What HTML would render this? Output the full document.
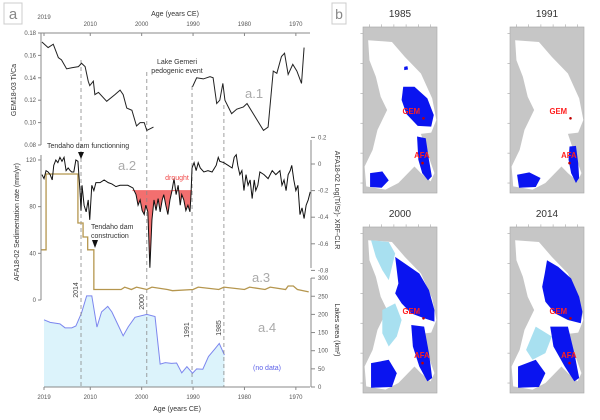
<!DOCTYPE html>
<html><head><meta charset="utf-8"><style>
html,body{margin:0;padding:0;background:#fff;}
svg{display:block;font-family:"Liberation Sans",sans-serif;}
</style></head><body>
<svg id="fig" width="600" height="420" viewBox="0 0 600 420">
<g id="panelA"></g>
<g id="panelB"></g>
</svg>
<script>
// ---- data ----
const tiYears1=[2019.4,2018.2,2017.2,2016.2,2015.6,2014.6,2013.6,2012.3,2011.7,2011.0,2010.4,2010.1,2009.4,2009.1,2008.4,2006.8,2005.2,2004.2,2003.6,2002.9,2001.9,2001.0,2000.3,1999.5,1999.0,1997.7];
const tiVals1=[0.172,0.167,0.170,0.158,0.156,0.148,0.149,0.150,0.153,0.150,0.137,0.133,0.137,0.125,0.127,0.119,0.125,0.129,0.125,0.113,0.111,0.097,0.100,0.100,0.093,0.096];
const tiYears2=[1990.1,1989.3,1988.0,1986.7,1986.1,1985.4,1984.8,1984.2,1983.8,1982.5,1981.5,1980.2,1979.5,1978.3,1976.3,1975.4,1974.4,1973.7,1972.8,1972.2,1971.5,1970.6,1969.8,1968.9,1968.4];
const tiVals2=[0.132,0.140,0.139,0.141,0.140,0.117,0.120,0.135,0.120,0.108,0.112,0.114,0.117,0.108,0.093,0.096,0.146,0.144,0.159,0.162,0.143,0.152,0.146,0.135,0.167];
const srYears=[2019.4,2019.0,2018.6,2018.2,2017.8,2017.4,2017.1,2016.7,2016.3,2015.9,2015.5,2015.1,2014.7,2014.3,2013.9,2013.6,2013.2,2012.8,2012.4,2012.0,2011.8,2011.6,2011.2,2010.8,2010.4,2010.1,2009.7,2009.3,2008.9,2008.1,2007.3,2006.5,2005.8,2005.0,2004.2,2003.4,2002.7,2001.7,2001.1,2000.7,2000.3,1999.9,1999.5,1999.2,1998.8,1998.4,1998.0,1997.6,1997.2,1996.8,1996.4,1996.0,1995.7,1995.3,1994.9,1994.5,1994.1,1993.7,1993.3,1992.9,1992.5,1992.2,1991.8,1991.4,1991.0,1990.6,1990.4,1990.2,1989.8,1989.4,1989.0,1988.6,1987.9,1987.1,1986.3,1985.5,1985.1,1984.8,1984.0,1983.2,1982.4,1982.0,1981.6,1981.3,1980.9,1980.5,1980.1,1979.7,1979.3,1978.9,1978.5,1978.1,1977.8,1977.4,1977.0,1976.2,1975.4,1974.6,1973.9,1973.1,1972.7,1972.3,1971.9,1971.5,1971.1,1970.8,1970.4,1970.0,1969.6,1969.2,1968.8,1968.4,1968.0,1967.6,1967.2];
const srVals=[-0.08,-0.11,-0.05,-0.06,-0.08,-0.12,-0.01,0.03,0.01,0.05,0.02,0.05,-0.05,-0.03,-0.05,-0.06,-0.06,0.03,0.02,-0.20,-0.35,-0.16,-0.31,-0.36,-0.27,-0.42,-0.16,-0.20,-0.14,-0.14,-0.12,-0.14,-0.15,-0.17,-0.16,-0.16,-0.16,-0.18,-0.23,-0.31,-0.27,-0.35,-0.38,-0.31,-0.36,-0.78,-0.42,-0.27,-0.35,-0.26,-0.36,-0.27,-0.23,-0.31,-0.38,-0.27,-0.20,-0.11,-0.23,-0.16,-0.31,-0.23,-0.27,-0.35,-0.31,-0.36,-0.23,-0.03,0.01,-0.05,0.01,-0.03,-0.06,-0.05,-0.06,-0.01,0.05,0.02,0.01,-0.01,-0.03,0.05,0.07,-0.01,-0.08,-0.05,-0.20,-0.08,-0.16,-0.12,-0.26,-0.12,-0.20,-0.16,-0.06,-0.08,-0.11,-0.05,-0.08,-0.05,-0.16,-0.12,-0.20,-0.08,-0.05,-0.01,-0.12,-0.20,-0.16,-0.38,-0.33,-0.41,-0.31,-0.27,-0.21];
const sedYears=[2019.6,2018.6,2018.6,2012.4,2012.4,2011.4,2011.4,2010.5,2010.5,2009.3,2009.3,2004,2003.3,2002,2001,1999,1998,1995,1994,1990,1989,1985,1984,1980,1979,1976,1975,1972,1971.5,1970.5,1969.7,1967.5];
const sedVals=[43,43,108,108,66,66,54,54,43,43,9,9,11,9,11,9,11,9,8,9,11,9,11,9,11,9,11,9,12,12,9,7];
const lakeYears=[2019.0,2017.8,2015.9,2014.9,2013.6,2012.8,2011.7,2010.7,2009.7,2008.7,2007.8,2006.6,2005.8,2004.5,2003.6,2002.6,2001.3,1999.0,1997.4,1996.4,1995.4,1994.2,1993.2,1992.2,1991.2,1990.1,1989.3,1988.1,1987.0,1985.7,1984.9,1983.9];
const lakeVals=[185,178,174,163,163,168,204,251,251,165,207,222,207,168,141,166,192,200,194,63,67,65,66,39,56,38,50,49,84,106,120,88];
const ageTicks=[2019,2010,2000,1990,1980,1970];
const tiTicks=[0.18,0.16,0.14,0.12,0.10,0.08];
const sedTicks=[120,80,40,0];
const logTicks=[0.2,0,-0.2,-0.4,-0.6,-0.8];
const lakeTicks=[300,250,200,150,100,50,0];
const eventYears=[2011.8,1999.0,1990.2,1984.0];
const eventLabels=["2014","2000","1991","1985"];

// ---- scales ----
const X0=44,PX=5.14;
const xs=y=>X0+(2019-y)*PX;
const yTi=v=>33+(0.18-v)/0.02*22.4;
const ySed=v=>300-v*1.167;
const yLog=v=>164-v*133;
const yLake=v=>387-v*0.363;
const NS="http://www.w3.org/2000/svg";
function el(tag,attrs,parent,text){const e=document.createElementNS(NS,tag);for(const k in attrs)e.setAttribute(k,attrs[k]);if(text!==undefined)e.textContent=text;parent.appendChild(e);return e;}
const A=document.getElementById('panelA');
const B=document.getElementById('panelB');
const TC="#555";

let t=el('rect',{x:4,y:3,width:18,height:21,fill:'#fff',stroke:'#ccc'},A);

t=el('text',{x:13,y:19,'font-size':15,fill:'#888','text-anchor':'middle'},A,'a');


let pts=lakeYears.map((y,i)=>xs(y)+','+yLake(lakeVals[i]));
t=el('polygon',{points:xs(lakeYears[0])+','+yLake(0)+' '+pts.join(' ')+' '+xs(lakeYears[lakeYears.length-1])+','+yLake(0),fill:'#dcf3fb'},A);

t=el('polyline',{points:pts.join(' '),fill:'none',stroke:'#7c86ee','stroke-width':1},A);


const defs=el('defs',{},A);
const cp=el('clipPath',{id:'dclip'},defs);
el('rect',{x:xs(2001.8),y:yLog(-0.2),width:xs(1990.2)-xs(2001.8),height:120},cp);
const dIdx=srYears.map((y,i)=>i).filter(i=>srYears[i]<=2001.8&&srYears[i]>=1990.2);
let dp=dIdx.map(i=>xs(srYears[i])+','+yLog(srVals[i]));
t=el('polygon',{points:xs(2001.8)+','+yLog(-0.2)+' '+dp.join(' ')+' '+xs(1990.2)+','+yLog(-0.2),fill:'#f36f6f','clip-path':'url(#dclip)'},A);

t=el('rect',{x:xs(2001.8),y:yLog(-0.2)-0.5,width:xs(1990.2)-xs(2001.8),height:1,fill:'#f36f6f'},A);


const dashTop=[60,72,86,105];
eventYears.forEach((y,i)=>{
  const l=el('line',{x1:xs(y),x2:xs(y),y1:dashTop[i],y2:387,stroke:'#888','stroke-dasharray':'4,3','stroke-width':0.8},A);
  
  const ly=[290,302,330,328][i];
  const tx=el('text',{x:xs(y)-3,y:ly,'font-size':7,fill:'#444',transform:`rotate(-90 ${xs(y)-3} ${ly})`,'text-anchor':'middle'},A,eventLabels[i]);
  
});

t=el('polyline',{points:sedYears.map((y,i)=>xs(y)+','+ySed(sedVals[i])).join(' '),fill:'none',stroke:'#b5964e','stroke-width':1.3},A);


t=el('polyline',{points:srYears.map((y,i)=>xs(y)+','+yLog(srVals[i])).join(' '),fill:'none',stroke:'#111','stroke-width':1},A);


t=el('polyline',{points:tiYears1.map((y,i)=>xs(y)+','+yTi(tiVals1[i])).join(' '),fill:'none',stroke:'#222','stroke-width':1},A);

t=el('polyline',{points:tiYears2.map((y,i)=>xs(y)+','+yTi(tiVals2[i])).join(' '),fill:'none',stroke:'#222','stroke-width':1},A);


function axisLine(x1,y1,x2,y2,name){const l=el('line',{x1,y1,x2,y2,stroke:'#888','stroke-width':1},A);}
axisLine(41,33,310,33,'top-x-axis');
axisLine(44,387,310,387,'bottom-x-axis');
axisLine(41,33,41,145,'ti-ca-y-axis');
axisLine(41,155,41,300,'sed-rate-y-axis');
axisLine(311,140,311,268,'log-y-axis');
axisLine(311,278,311,387,'lake-area-y-axis');
ageTicks.forEach(y=>{
  el('line',{x1:xs(y),x2:xs(y),y1:33,y2:36,stroke:'#888'},A);
  el('line',{x1:xs(y),x2:xs(y),y1:387,y2:390,stroke:'#888'},A);
  let a=el('text',{x:xs(y),y:y===2019?19:26,'font-size':6,fill:TC,'text-anchor':'middle'},A,String(y));
  
  a=el('text',{x:xs(y),y:399,'font-size':6,fill:TC,'text-anchor':'middle'},A,String(y));
  
});
tiTicks.forEach(v=>{el('line',{x1:38,x2:41,y1:yTi(v),y2:yTi(v),stroke:'#888'},A);
  const a=el('text',{x:36,y:yTi(v)+2,'font-size':6,fill:TC,'text-anchor':'end'},A,v.toFixed(2));
  });
sedTicks.forEach(v=>{el('line',{x1:38,x2:41,y1:ySed(v),y2:ySed(v),stroke:'#888'},A);
  const a=el('text',{x:36,y:ySed(v)+2,'font-size':6,fill:TC,'text-anchor':'end'},A,String(v));
  });
logTicks.forEach(v=>{el('line',{x1:311,x2:315,y1:yLog(v),y2:yLog(v),stroke:'#888'},A);
  const a=el('text',{x:318,y:yLog(v)+2,'font-size':6,fill:TC},A,v===0?'0':v.toFixed(1));
  });
lakeTicks.forEach(v=>{el('line',{x1:311,x2:315,y1:yLake(v),y2:yLake(v),stroke:'#888'},A);
  const a=el('text',{x:318,y:yLake(v)+2,'font-size':6,fill:TC},A,String(v));
  });

function txt(x,y,s,size,fill,name,extra){const a=el('text',Object.assign({x,y,'font-size':size,fill},extra||{}),A,s);return a;}
txt(175,16,'Age (years CE)',7,'#333','top-x-axis-title',{'text-anchor':'middle'});
txt(177,411,'Age (years CE)',7,'#333','bottom-x-axis-title',{'text-anchor':'middle'});
txt(16,90,'GEM18-03 Ti/Ca',7,'#333','ti-ca-y-title',{'text-anchor':'middle',transform:'rotate(-90 16 90)'});
txt(19,222,'AFA18-02 Sedimentation rate (mm/yr)',7,'#333','sed-rate-y-title',{'text-anchor':'middle',transform:'rotate(-90 19 222)'});
txt(335,200,'AFA18-02 Log(Ti/Sr)- XRF-CLR',7,'#333','log-y-title',{'text-anchor':'middle',transform:'rotate(90 335 200)'});
txt(335,330,'Lakes area (km²)',7,'#333','lake-area-y-title',{'text-anchor':'middle',transform:'rotate(90 335 330)'});
txt(245,98,'a.1',13,'#aaa','label-a1');
txt(118,170,'a.2',13,'#aaa','label-a2');
txt(252,282,'a.3',13,'#aaa','label-a3');
txt(258,332,'a.4',13,'#aaa','label-a4');
txt(177,64,'Lake Gemeri',7,'#333','gemeri-annotation-1',{'text-anchor':'middle'});
txt(177,73,'pedogenic event',7,'#333','gemeri-annotation-2',{'text-anchor':'middle'});
txt(47,148,'Tendaho dam functionning',7,'#333','dam-functioning-annotation');
txt(91,229,'Tendaho dam',7,'#333','dam-construction-annotation-1');
txt(91,238,'construction',7,'#333','dam-construction-annotation-2');
txt(177,180,'drought',7,'#f04848','drought-label',{'text-anchor':'middle'});
txt(267,370,'(no data)',7,'#5d62e8','no-data-label',{'text-anchor':'middle'});
t=el('polygon',{points:'78,152 84,152 81,159',fill:'#111'},A);
t=el('polygon',{points:'92,240 98,240 95,248',fill:'#111'},A);

// ---- panel b maps ----
t=el('rect',{x:332,y:3,width:14,height:21,fill:'#fff',stroke:'#ccc'},B);
t=el('text',{x:339,y:19,'font-size':14,fill:'#888','text-anchor':'middle'},B,'b');
const land="16,40 90,45 130,90 180,140 215,215 228,280 212,318 180,322 200,380 222,440 210,465 180,440 160,420 110,470 70,490 10,480 5,420 30,370 45,310 75,250 55,210 40,150 20,100";
const maps=[
 {year:'1985',x:363,y:27,lakes:["125,180 160,180 200,215 220,265 212,300 170,298 135,262 120,220","168,330 195,335 205,400 214,450 202,462 184,440 172,400","22,440 60,435 80,462 58,484 22,482","128,120 138,118 140,128 128,130"],light:[]},
 {year:'1991',x:510,y:27,lakes:["185,360 205,358 212,410 215,455 205,470 190,440 182,400","22,445 60,438 95,455 80,482 28,484"],light:[]},
 {year:'2000',x:363,y:227,lakes:["100,90 130,110 175,140 205,190 222,250 222,285 190,275 150,260 120,230 100,200 110,170 105,130","150,295 190,300 205,380 215,455 200,465 175,420 155,360","25,410 80,400 105,440 90,482 25,484"],light:["25,40 80,45 100,80 90,120 80,160 60,130 40,90","60,250 100,230 120,280 105,330 80,360 60,320"]},
 {year:'2014',x:510,y:227,lakes:["115,100 150,120 190,155 215,210 225,255 220,290 180,280 140,260 110,225 100,180 108,140","125,300 180,300 200,380 215,455 200,465 170,420 135,360","25,420 80,400 110,440 90,482 25,484"],light:["80,300 130,330 110,380 70,400 50,370"]}
];
maps.forEach(m=>{
  const g=el('g',{transform:`translate(${m.x},${m.y}) scale(${74/230},${166/500})`},B);
  
  el('rect',{x:0,y:0,width:230,height:500,fill:'#c6c6c6',stroke:'#aaa','stroke-width':2},g);
  el('polygon',{points:land,fill:'#fff'},g);
  m.light.forEach(p=>el('polygon',{points:p,fill:'#a8e0f0'},g));
  m.lakes.forEach(p=>{const q=el('polygon',{points:p,fill:'#0a14f0'},g);});
  for(let i=0;i<6;i++){el('line',{x1:20+i*38,x2:20+i*38,y1:-8,y2:0,stroke:'#aaa','stroke-width':2},g);el('line',{x1:-8,x2:0,y1:20+i*90,y2:20+i*90,stroke:'#aaa','stroke-width':2},g);}
  let a=el('text',{x:150,y:262,'font-size':24,fill:'#ff2020','font-weight':'bold','text-anchor':'middle'},g,'GEM');
  el('circle',{cx:188,cy:275,r:4,fill:'#c00000'},g);
  a=el('text',{x:183,y:395,'font-size':24,fill:'#ff2020','font-weight':'bold','text-anchor':'middle'},g,'AFA');
  el('circle',{cx:185,cy:410,r:4,fill:'#c00000'},g);
  a=el('text',{x:m.x+37,y:m.y-10,'font-size':10,fill:'#333','text-anchor':'middle'},B,m.year);
});
</script>
</body></html>
